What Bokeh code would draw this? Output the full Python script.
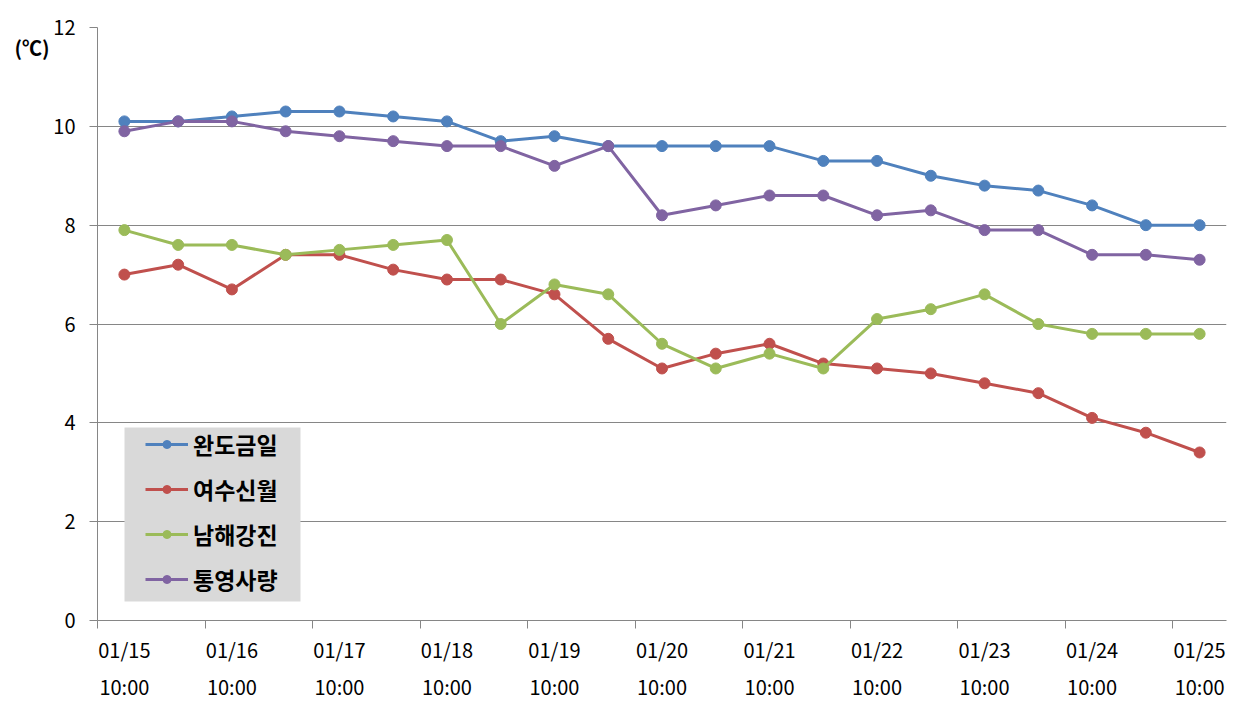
from bokeh.plotting import figure
from bokeh.models import FixedTicker, LinearAxis, Legend, LegendItem, Range1d, BoxAnnotation
from bokeh.embed import file_html
from bokeh.resources import INLINE

# ---- data ----
times = ["01/15 10:00", "01/15 22:00", "01/16 10:00", "01/16 22:00", "01/17 10:00", "01/17 22:00",
         "01/18 10:00", "01/18 22:00", "01/19 10:00", "01/19 22:00", "01/20 10:00", "01/20 22:00",
         "01/21 10:00", "01/21 22:00", "01/22 10:00", "01/22 22:00", "01/23 10:00", "01/23 22:00",
         "01/24 10:00", "01/24 22:00", "01/25 10:00"]
series_names = ["완도금일", "여수신월", "남해강진", "통영사량"]
wando = [10.1, 10.1, 10.2, 10.3, 10.3, 10.2, 10.1, 9.7, 9.8, 9.6, 9.6, 9.6, 9.6, 9.3, 9.3, 9.0, 8.8, 8.7, 8.4, 8.0, 8.0]
yeosu = [7.0, 7.2, 6.7, 7.4, 7.4, 7.1, 6.9, 6.9, 6.6, 5.7, 5.1, 5.4, 5.6, 5.2, 5.1, 5.0, 4.8, 4.6, 4.1, 3.8, 3.4]
namhae = [7.9, 7.6, 7.6, 7.4, 7.5, 7.6, 7.7, 6.0, 6.8, 6.6, 5.6, 5.1, 5.4, 5.1, 6.1, 6.3, 6.6, 6.0, 5.8, 5.8, 5.8]
tongyeong = [9.9, 10.1, 10.1, 9.9, 9.8, 9.7, 9.6, 9.6, 9.2, 9.6, 8.2, 8.4, 8.6, 8.6, 8.2, 8.3, 7.9, 7.9, 7.4, 7.4, 7.3]
tick_dates = ["01/15", "01/16", "01/17", "01/18", "01/19", "01/20", "01/21", "01/22", "01/23", "01/24", "01/25"]
tick_times = ["10:00"] * 11
y_ticks = [0, 2, 4, 6, 8, 10, 12]
unit_label = "(℃)"
colors = ["#4f81bd", "#c0504d", "#9bbb59", "#8064a2"]

FONT = "Noto Sans CJK KR"
GRAY = "#868686"

x = list(range(len(times)))
label_pos = x[::2]
boundary_pos = [i - 0.5 for i in label_pos]

p = figure(width=1249, height=705, output_backend="svg", toolbar_location=None,
           x_range=Range1d(-0.5, len(times) - 0.5), y_range=Range1d(0, 12),
           min_border_left=97, min_border_right=23, min_border_top=27, min_border_bottom=85)
p.outline_line_color = None
p.background_fill_color = "white"
p.xgrid.grid_line_color = None
p.ygrid.ticker = FixedTicker(ticks=y_ticks)
p.ygrid.grid_line_color = GRAY
p.ygrid.grid_line_width = 1

# y axis
ya = p.yaxis[0]
ya.ticker = FixedTicker(ticks=y_ticks)
ya.axis_line_color = GRAY
ya.major_tick_line_color = GRAY
ya.major_tick_out = 8
ya.major_tick_in = 0
ya.minor_tick_line_color = None
ya.major_label_text_font = FONT
ya.major_label_text_font_size = "20px"
ya.major_label_text_color = "black"
ya.major_label_standoff = 14

# unit label drawn as the single tick label of a bare extra axis
unit_pos = 11.6
ua = LinearAxis(ticker=FixedTicker(ticks=[unit_pos]))
ua.axis_line_color = None
ua.major_tick_line_color = None
ua.minor_tick_line_color = None
ua.major_tick_out = 0
ua.major_tick_in = 0
ua.major_label_standoff = 1
ua.major_label_overrides = {unit_pos: unit_label}
ua.major_label_text_font = FONT
ua.major_label_text_font_size = "20px"
ua.major_label_text_font_style = "bold"
ua.major_label_text_color = "black"
p.add_layout(ua, "left")

# x axis: dates, tick marks at boundaries (minor ticks)
xa = p.xaxis[0]
xa.ticker = FixedTicker(ticks=label_pos, minor_ticks=boundary_pos)
xa.axis_line_color = GRAY
xa.major_tick_line_color = None
xa.major_tick_out = 8
xa.major_tick_in = 0
xa.minor_tick_line_color = GRAY
xa.minor_tick_out = 8
xa.minor_tick_in = 0
xa.major_label_overrides = {pos: d for pos, d in zip(label_pos, tick_dates)}
xa.major_label_text_font = FONT
xa.major_label_text_font_size = "20px"
xa.major_label_text_color = "black"
xa.major_label_standoff = 6

# second x axis: times
xa2 = LinearAxis(ticker=FixedTicker(ticks=label_pos))
xa2.axis_line_color = None
xa2.major_tick_line_color = None
xa2.minor_tick_line_color = None
xa2.major_tick_out = 0
xa2.major_tick_in = 0
xa2.major_label_overrides = {pos: t for pos, t in zip(label_pos, tick_times)}
xa2.major_label_text_font = FONT
xa2.major_label_text_font_size = "20px"
xa2.major_label_text_color = "black"
xa2.major_label_standoff = 5
p.add_layout(xa2, "below")

# series
items = []
for name, vals, c in zip(series_names, [wando, yeosu, namhae, tongyeong], colors):
    ln = p.line(x, vals, line_color=c, line_width=3)
    sc = p.scatter(x, vals, marker="circle", size=11, fill_color=c, line_color=c)
    items.append(LegendItem(label=name, renderers=[ln, sc]))

# legend box
box = BoxAnnotation(left=27, right=203, bottom=19, top=193,
                    left_units="screen", right_units="screen", bottom_units="screen", top_units="screen",
                    fill_color="#d9d9d9", fill_alpha=1, line_color=None)
p.add_layout(box)

legend = Legend(items=items, location=(48, 24), background_fill_alpha=0, border_line_color=None,
                padding=0, margin=0, spacing=11, glyph_width=43, glyph_height=20, label_standoff=5,
                label_text_font=FONT, label_text_font_size="23px", label_text_font_style="bold",
                label_text_color="black")
p.add_layout(legend)

open("out.html", "w").write(file_html(p, INLINE))
